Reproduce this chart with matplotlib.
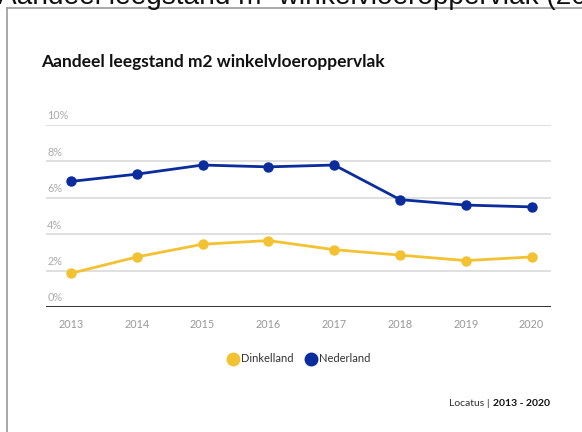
import matplotlib
matplotlib.use("Agg")
import matplotlib.pyplot as plt
from matplotlib.lines import Line2D

years = [2013, 2014, 2015, 2016, 2017, 2018, 2019, 2020]
dinkelland = [1.85, 2.75, 3.45, 3.65, 3.15, 2.85, 2.55, 2.75]
nederland = [6.9, 7.3, 7.8, 7.7, 7.8, 5.9, 5.6, 5.5]
yticks = [0, 2, 4, 6, 8, 10]
ytick_labels = ["0%", "2%", "4%", "6%", "8%", "10%"]
series_names = ["Dinkelland", "Nederland"]

YELLOW = "#F3C232"
BLUE = "#0A2C9C"
W, H = 582, 432

fig = plt.figure(figsize=(W / 100, H / 100), dpi=100)
fig.patch.set_facecolor("white")

# page header partially cut off at top
fig.text(-0.003, 1 - 4.5 / H, "Aandeel leegstand m² winkelvloeroppervlak (2013 - 2020)",
         fontsize=20.2, family="Liberation Sans", color="#111111",
         ha="left", va="baseline")
# frame lines
fig.add_artist(Line2D([7 / W, 7 / W], [0, 1 - 7.5 / H], transform=fig.transFigure,
                      color="#999999", lw=1.2))
fig.add_artist(Line2D([7 / W, 1], [1 - 7.5 / H, 1 - 7.5 / H], transform=fig.transFigure,
                      color="#999999", lw=1.2))

# title
fig.text(41 / W, 1 - 62 / H, "Aandeel leegstand m2 winkelvloeroppervlak",
         fontsize=12.5, fontweight="bold", family="Lato", color="#111111",
         ha="left", va="center")

ax = fig.add_axes([45.7 / W, (H - 307) / H, 505 / W, 182 / H])
ax.set_xlim(years[0] - 0.385, years[-1] + 0.29)
ax.set_ylim(0, 10)
for s in ax.spines.values():
    s.set_visible(False)
ax.set_yticks([])
for v in yticks[1:]:
    ax.axhline(v, color="#DDDDDD", lw=1.3, zorder=1)
ax.axhline(0, color="#222222", lw=1.3, zorder=2)
for v, lab in zip(yticks, ytick_labels):
    ax.text(0.003, v + 0.2, lab, transform=ax.get_yaxis_transform(),
            ha="left", va="bottom", fontsize=7.8, color="#AAAAAA", family="Lato")

ax.set_xticks(years)
ax.set_xticklabels([str(y) for y in years], fontsize=7.8, color="#999999", family="Lato")
ax.tick_params(axis="x", length=0, pad=9)

ax.plot(years, dinkelland, color=YELLOW, lw=2, marker="o", markersize=6.5, zorder=3, clip_on=False)
ax.plot(years, nederland, color=BLUE, lw=2, marker="o", markersize=6.5, zorder=3, clip_on=False)

# legend
handles = [Line2D([], [], ls="none", marker="o", markersize=9, color=YELLOW),
           Line2D([], [], ls="none", marker="o", markersize=9, color=BLUE)]
fig.legend(handles, series_names, loc="center", bbox_to_anchor=(297 / W, 1 - 359 / H),
           ncol=2, frameon=False, handletextpad=-0.1, columnspacing=0.8, handlelength=1.6,
           prop={"family": "Lato", "size": 8}, labelcolor="#333333")

# source
t_bold = fig.text(550 / W, 1 - 404 / H, "2013 - 2020", fontsize=7.5, fontweight="bold",
                  family="Lato", color="#111111", ha="right", va="center")
fig.canvas.draw()
bb = t_bold.get_window_extent()
fig.text((bb.x0 - 3) / W, 1 - 404 / H, "Locatus |", fontsize=7.5,
         family="Lato", color="#333333", ha="right", va="center")

fig.savefig("out.png", dpi=100, facecolor="white")
